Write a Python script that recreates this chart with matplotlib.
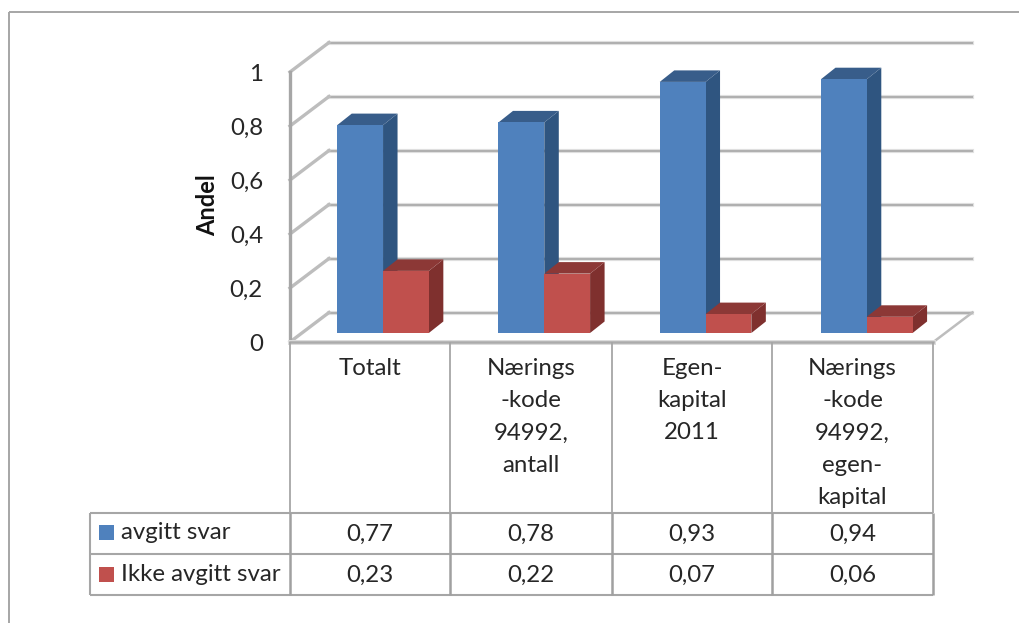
import matplotlib
matplotlib.use("Agg")
import matplotlib.pyplot as plt
from matplotlib.patches import Polygon
from matplotlib.lines import Line2D
from matplotlib.transforms import Affine2D

categories = ["Totalt", "Nærings\n-kode\n94992,\nantall", "Egen-\nkapital\n2011", "Nærings\n-kode\n94992,\negen-\nkapital"]
avgitt = [0.77, 0.78, 0.93, 0.94]
ikke = [0.23, 0.22, 0.07, 0.06]
avgitt_labels = ["0,77", "0,78", "0,93", "0,94"]
ikke_labels = ["0,23", "0,22", "0,07", "0,06"]
series_names = ["avgitt svar", "Ikke avgitt svar"]
y_ticks = [0, 0.2, 0.4, 0.6, 0.8, 1]
y_labels = ["0", "0,2", "0,4", "0,6", "0,8", "1"]

W, H = 1020, 623
FONT = "Lato"
TXT = "#262626"
FS = 17.3
fig = plt.figure(figsize=(W / 100, H / 100), dpi=100, facecolor="white")
L, R, T, B = 290, 935, 72, 342
ax = fig.add_axes([L / W, (H - B) / H, (R - L) / W, (B - T) / H])
ax.set_xlim(-0.5, 3.5)
ax.set_ylim(0, 1)
ax.axis("off")

pix = Affine2D().scale(1, -1).translate(0, H)  # figure pixels, y from top


def pline(xs, ys, color="#a6a6a6", lw=1.5, z=1):
    fig.add_artist(Line2D(xs, ys, transform=pix, color=color, lw=lw, zorder=z, solid_capstyle="butt"))


# frame
pline([9, 9], [12, 623], "#a6a6a6", 1.4)
pline([9, 1020], [12, 12], "#a6a6a6", 1.4)

# 3D walls: depth offsets in pixels
DX, DY = 39, 29.5
END = 3.49
back = ax.transData + Affine2D().translate(DX, DY)
for v in y_ticks:
    ax.plot([-0.5, END], [v, v], transform=back, color="#e2e2e2", lw=3.0, clip_on=False, zorder=1)
    ax.plot([-0.5, END], [v, v], transform=back, color="#b0b0b0", lw=1.5, clip_on=False, zorder=1.1)
    x0, y0 = ax.transData.transform((-0.5, v))
    ax.add_line(Line2D([x0, x0 + DX], [y0, y0 + DY], transform=None, color="#bdbdbd", lw=2.4, clip_on=False, zorder=1.2))
x1, y1 = ax.transData.transform((END, 0))
ax.add_line(Line2D([x1, x1 + DX], [y1, y1 + DY], transform=None, color="#bdbdbd", lw=1.8, clip_on=False, zorder=1.2))
ax.plot([-0.5, -0.5], [0, 1], color="#a6a6a6", lw=2.4, clip_on=False, zorder=1.3)
ax.plot([-0.5, END], [0, 0], color="#dcdcdc", lw=3.6, clip_on=False, zorder=1.3)
ax.plot([-0.5, END], [0, 0], color="#ababab", lw=1.8, clip_on=False, zorder=1.4)

# bars
BAR_W = 0.284
OFF = 0.077            # dividing line between the pair, relative to category centre
BASE_X, BASE_Y = 0, 9  # bars stand this many pixels behind the front edge
DEPTH_X, DEPTH_Y = 14.5, 11.5
bars_tr = ax.transData + Affine2D().translate(BASE_X, BASE_Y)
COL = {"a": ("#4f81bd", "#2f5580", "#385d8a"), "b": ("#c0504d", "#7f302e", "#8c3836")}


def bar3d(cx, v, cols, z):
    ax.bar(cx, v, BAR_W, align="edge", color=cols[0], transform=bars_tr, clip_on=False, zorder=z + 0.2, lw=0)
    p = bars_tr.transform([(cx, 0), (cx + BAR_W, 0), (cx + BAR_W, v), (cx, v)])
    (xa, ya), (xb, yb), (xc, yc), (xd, yd) = p
    side = [(xb, yb), (xb + DEPTH_X, yb + DEPTH_Y), (xc + DEPTH_X, yc + DEPTH_Y), (xc, yc)]
    top = [(xd, yd), (xc, yc), (xc + DEPTH_X, yc + DEPTH_Y), (xd + DEPTH_X, yd + DEPTH_Y)]
    ax.add_patch(Polygon(side, closed=True, transform=None, fc=cols[1], ec="none", clip_on=False, zorder=z))
    ax.add_patch(Polygon(top, closed=True, transform=None, fc=cols[2], ec="none", clip_on=False, zorder=z + 0.1))


for i in range(4):
    mid = i + OFF
    bar3d(mid - BAR_W, avgitt[i], COL["a"], 3)
    bar3d(mid, ikke[i], COL["b"], 4)

# y ticks
for v, s in zip(y_ticks, y_labels):
    ax.annotate(s, (-0.5, v), xytext=(-27, -2.5), textcoords="offset pixels", ha="right", va="center",
                fontsize=FS, family=FONT, color=TXT, annotation_clip=False)
fig.text(207.5 / W, 1 - 205 / H, "Andel", rotation=90, ha="center", va="center", fontsize=17,
         fontweight="bold", family=FONT, color="#111111")

# data table
xs = [290, 450, 612, 772, 933]
pline([90, xs[-1]], [513, 513], "#a6a6a6", 1.5)
pline([90, xs[-1]], [554, 554], "#a6a6a6", 1.5)
pline([90, xs[-1]], [595, 595], "#a6a6a6", 1.5)
pline([90, 90], [513, 595], "#a6a6a6", 1.5)
for x in xs:
    pline([x, x], [342, 513], "#a6a6a6", 1.3)
    pline([x, x], [513, 595], "#a0a0a0", 1.8)

for i, c in enumerate(categories):
    cx = (xs[i] + xs[i + 1]) / 2 / W
    fig.text(cx, 1 - 358 / H, c, ha="center", va="top", fontsize=FS, family=FONT, color=TXT, linespacing=1.66)
    fig.text(cx, 1 - 534 / H, avgitt_labels[i], ha="center", va="center", fontsize=FS, family=FONT, color=TXT)
    fig.text(cx, 1 - 575 / H, ikke_labels[i], ha="center", va="center", fontsize=FS, family=FONT, color=TXT)

for name, col, yc in zip(series_names, ["#4f81bd", "#c0504d"], [532, 574]):
    fig.add_artist(Polygon([(99, yc - 7.5), (114, yc - 7.5), (114, yc + 7.5), (99, yc + 7.5)], closed=True,
                           transform=pix, fc=col, ec="none"))
    fig.text(121 / W, 1 - (yc + 0.5) / H, name, ha="left", va="center", fontsize=FS, family=FONT, color=TXT)

fig.savefig("out.png", dpi=100)
